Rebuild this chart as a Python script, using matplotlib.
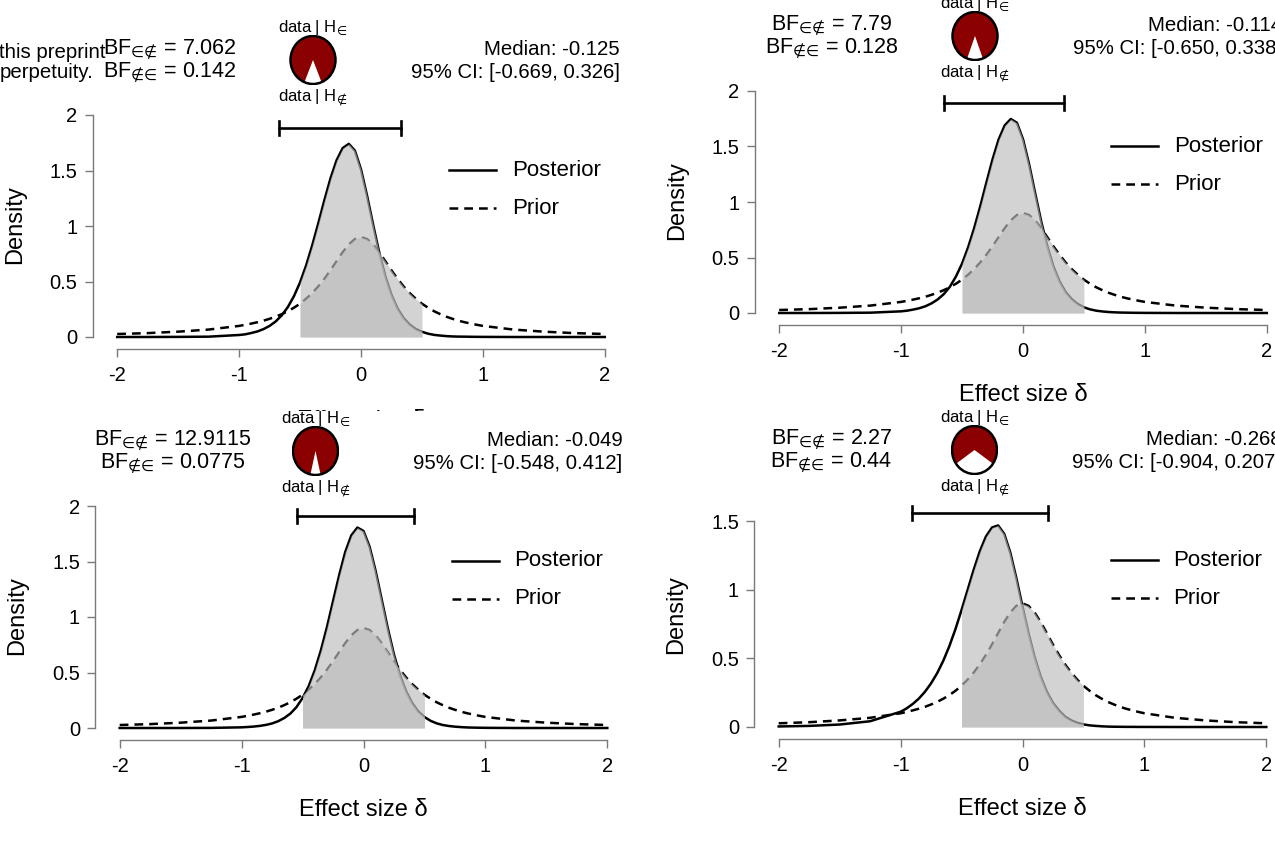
import numpy as np
import matplotlib
matplotlib.use('Agg')
import matplotlib.pyplot as plt
from matplotlib.patches import Rectangle, Circle

plt.rcParams['font.family'] = ['Liberation Sans', 'DejaVu Sans']

W, H = 1275, 850

# effect size grid the densities were read at
delta = [-2.0, -1.75, -1.5, -1.25,
         -1.0, -0.95, -0.9, -0.85, -0.8, -0.75, -0.7, -0.65, -0.6, -0.55,
         -0.5, -0.45, -0.4, -0.35, -0.3, -0.25, -0.2, -0.15, -0.1, -0.05,
         0.0, 0.05, 0.1, 0.15, 0.2, 0.25, 0.3, 0.35, 0.4, 0.45,
         0.5, 0.55, 0.6, 0.65, 0.7, 0.75, 0.8, 0.85, 0.9, 0.95, 1.0,
         1.25, 1.5, 1.75, 2.0]

prior = [0.027, 0.035, 0.048, 0.067,
         0.100, 0.110, 0.121, 0.133, 0.147, 0.164, 0.183, 0.206, 0.232, 0.264,
         0.300, 0.344, 0.395, 0.455, 0.524, 0.600, 0.682, 0.763, 0.833, 0.882,
         0.900, 0.882, 0.833, 0.763, 0.682, 0.600, 0.524, 0.455, 0.395, 0.344,
         0.300, 0.264, 0.232, 0.206, 0.183, 0.164, 0.147, 0.133, 0.121, 0.110, 0.100,
         0.067, 0.048, 0.035, 0.027]

post_1 = [0.0, 0.0, 0.001, 0.003,
          0.018, 0.024, 0.036, 0.050, 0.071, 0.100, 0.140, 0.195, 0.270, 0.368,
          0.492, 0.645, 0.826, 1.026, 1.234, 1.430, 1.593, 1.702, 1.740, 1.679,
          1.510, 1.272, 1.009, 0.759, 0.546, 0.379, 0.256, 0.169, 0.111, 0.071,
          0.047, 0.030, 0.019, 0.013, 0.008, 0.005, 0.0035, 0.003, 0.002, 0.0015, 0.001,
          0.0, 0.0, 0.0, 0.0]

post_2 = [0.0, 0.0, 0.001, 0.003,
          0.015, 0.021, 0.031, 0.043, 0.061, 0.087, 0.122, 0.170, 0.236, 0.329,
          0.445, 0.592, 0.766, 0.964, 1.176, 1.383, 1.563, 1.690, 1.748, 1.714,
          1.566, 1.341, 1.078, 0.822, 0.599, 0.418, 0.284, 0.188, 0.124, 0.080,
          0.051, 0.033, 0.021, 0.014, 0.009, 0.006, 0.004, 0.003, 0.002, 0.0015, 0.001,
          0.0, 0.0, 0.0, 0.0]

post_3 = [0.0, 0.0, 0.0, 0.001,
          0.006, 0.009, 0.013, 0.019, 0.028, 0.041, 0.061, 0.090, 0.130, 0.188,
          0.270, 0.376, 0.519, 0.698, 0.908, 1.142, 1.375, 1.585, 1.735, 1.806,
          1.775, 1.633, 1.413, 1.154, 0.895, 0.662, 0.474, 0.329, 0.223, 0.148,
          0.099, 0.065, 0.042, 0.027, 0.018, 0.012, 0.008, 0.005, 0.0035, 0.0024, 0.0016,
          0.0, 0.0, 0.0, 0.0]

post_4 = [0.004, 0.008, 0.018, 0.042,
          0.111, 0.136, 0.168, 0.207, 0.257, 0.318, 0.392, 0.482, 0.589, 0.713,
          0.852, 0.999, 1.146, 1.280, 1.387, 1.453, 1.468, 1.407, 1.270, 1.083,
          0.878, 0.681, 0.507, 0.365, 0.256, 0.175, 0.119, 0.075, 0.048, 0.030,
          0.019, 0.012, 0.008, 0.005, 0.003, 0.002, 0.0015, 0.001, 0.001, 0.0005, 0.0005,
          0.0, 0.0, 0.0, 0.0]

posteriors = [post_1, post_2, post_3, post_4]
bf_in = [7.062, 7.79, 12.9115, 2.27]
bf_out = [0.142, 0.128, 0.0775, 0.44]
medians = [-0.125, -0.114, -0.049, -0.268]
ci_low = [-0.669, -0.650, -0.548, -0.904]
ci_high = [0.326, 0.338, 0.412, 0.207]
y_top = [2, 2, 2, 1.5]

# layout (pixels): where delta=0 / density=0 sit, and px per density unit
panel_x0 = [361, 1023, 363.5, 1022.5]
panel_y0 = [337, 313, 728, 727]
panel_sy = [111, 111, 111, 137.3]
ci_dy = [209, 210, 212, 214]
SX = 121.9

fig = plt.figure(figsize=(W / 100, H / 100), dpi=100)


def fx(px):
    return px / W


def fy(py):
    return 1 - py / H


def draw_panel(i, z=0):
    x0, y0, sy = panel_x0[i], panel_y0[i], panel_sy[i]
    xlim = (-2.2, 2.25)
    ylim = (-12 / sy, 2.45)
    left = x0 + xlim[0] * SX
    right = x0 + xlim[1] * SX
    bottom = y0 - ylim[0] * sy
    top = y0 - ylim[1] * sy
    ax = fig.add_axes([fx(left), fy(bottom), (right - left) / W, (bottom - top) / H])
    ax.set_zorder(z)
    ax.patch.set_visible(False)

    d = np.array(delta)
    post = np.array(posteriors[i])
    pri = np.array(prior)
    ax.plot(d, post, color='black', lw=1.8, solid_joinstyle='round', zorder=2)
    ax.plot(d, pri, color='black', lw=1.8, ls=(0, (3.5, 2.4)), zorder=2)
    m = (d >= -0.5) & (d <= 0.5)
    ax.fill_between(d[m], 0, post[m], color='#bcbcbc', alpha=0.65, lw=0, zorder=3)
    ax.fill_between(d[m], 0, pri[m], color='#bcbcbc', alpha=0.65, lw=0, zorder=3)

    # credible interval bar
    yc = ci_dy[i] / sy
    cap = 7 / sy
    ax.plot([ci_low[i], ci_high[i]], [yc, yc], color='black', lw=1.9, clip_on=False)
    for v in (ci_low[i], ci_high[i]):
        ax.plot([v, v], [yc - cap, yc + cap], color='black', lw=1.9, clip_on=False)

    # legend
    ax.plot([88 / SX, 135 / SX], [167 / sy] * 2, color='black', lw=1.8)
    ax.plot([88 / SX, 135 / SX], [129 / sy] * 2, color='black', lw=1.8, ls=(0, (3.5, 2.4)))
    ax.text(151 / SX, 167 / sy, 'Posterior', fontsize=16, va='center')
    ax.text(151 / SX, 129 / sy, 'Prior', fontsize=16, va='center')

    ax.set_xlim(xlim)
    ax.set_ylim(ylim)
    for s in ['top', 'right']:
        ax.spines[s].set_visible(False)
    for s in ['left', 'bottom']:
        ax.spines[s].set_color('#7a7a7a')
        ax.spines[s].set_linewidth(1.0)
    ax.spines['bottom'].set_bounds(-2, 2)
    ax.spines['left'].set_bounds(0, y_top[i])
    ax.set_xticks([-2, -1, 0, 1, 2])
    ax.set_xticklabels(['-2', '-1', '0', '1', '2'])
    yt = [0, 0.5, 1, 1.5, 2][: 4 if y_top[i] == 1.5 else 5]
    ax.set_yticks(yt)
    ax.set_yticklabels([('%g' % v) for v in yt])
    ax.tick_params(direction='out', length=6, width=1, color='#7a7a7a', labelsize=14.5)
    ax.tick_params(axis='x', pad=6)
    ax.tick_params(axis='y', pad=5)

    fig.text(fx(x0 - 346), fy(y0 - 112), 'Density', rotation=90, fontsize=17,
             ha='center', va='center', zorder=3)

    # Bayes factor text
    fig.text(fx(x0 - 191), fy(y0 - 283), 'BF$_{∈∉}$ = ' + str(bf_in[i]),
             fontsize=15.5, ha='center', va='baseline', zorder=3)
    fig.text(fx(x0 - 191), fy(y0 - 260), 'BF$_{∉∈}$ = ' + str(bf_out[i]),
             fontsize=15.5, ha='center', va='baseline', zorder=3)

    # median and CI text
    rx = x0 + 2 * SX + 15
    fig.text(fx(rx), fy(y0 - 282), 'Median: %.3f' % medians[i],
             fontsize=14.7, ha='right', va='baseline', zorder=3)
    fig.text(fx(rx), fy(y0 - 259), '95%% CI: [%.3f, %.3f]' % (ci_low[i], ci_high[i]),
             fontsize=14.7, ha='right', va='baseline', zorder=3)

    # pie of the Bayes factor
    pcx, pcy = x0 - 48, y0 - 277
    pw, ph = 45 * 1.06, 48 * 1.06
    pax = fig.add_axes([fx(pcx - pw / 2), fy(pcy + ph / 2), pw / W, ph / H])
    pax.set_zorder(z + 1)
    white = 1 / (1 + bf_in[i])
    pax.pie([white, 1 - white], colors=['white', '#8b0000'],
            startangle=270 - white * 180, counterclock=True,
            wedgeprops=dict(linewidth=0))
    pax.add_patch(Circle((0, 0), 1, fill=False, ec='black', lw=1.8))
    pax.set_aspect('auto')
    pax.set_xlim(-1.06, 1.06)
    pax.set_ylim(-1.06, 1.06)
    pax.axis('off')
    fig.text(fx(pcx), fy(y0 - 305), 'data | H$_{∈}$', fontsize=12,
             ha='center', va='baseline', zorder=3)
    fig.text(fx(pcx), fy(y0 - 237), 'data | H$_{∉}$', fontsize=12,
             ha='center', va='baseline', zorder=3)
    return ax


draw_panel(0)
draw_panel(1)

# top-left x label, mostly hidden under the lower-left figure
fig.text(fx(361), fy(421), 'Effect size δ', fontsize=17, ha='center', va='center', zorder=1)
fig.add_artist(Rectangle((0, 0), fx(640), fy(411), transform=fig.transFigure,
                         facecolor='white', edgecolor='none', zorder=1.5))

draw_panel(2, z=2)
draw_panel(3, z=2)

for i in (1, 2, 3):
    fig.text(fx(panel_x0[i]), fy(panel_y0[i] + 82), 'Effect size δ', fontsize=17,
             ha='center', va='center', zorder=3)

# clipped licence text at the left edge
fig.text(fx(106), fy(58), 'this preprint', fontsize=14.7, ha='right', va='baseline')
fig.text(fx(93), fy(78), 'perpetuity.', fontsize=14.7, ha='right', va='baseline')

fig.savefig('out.png', dpi=100)
